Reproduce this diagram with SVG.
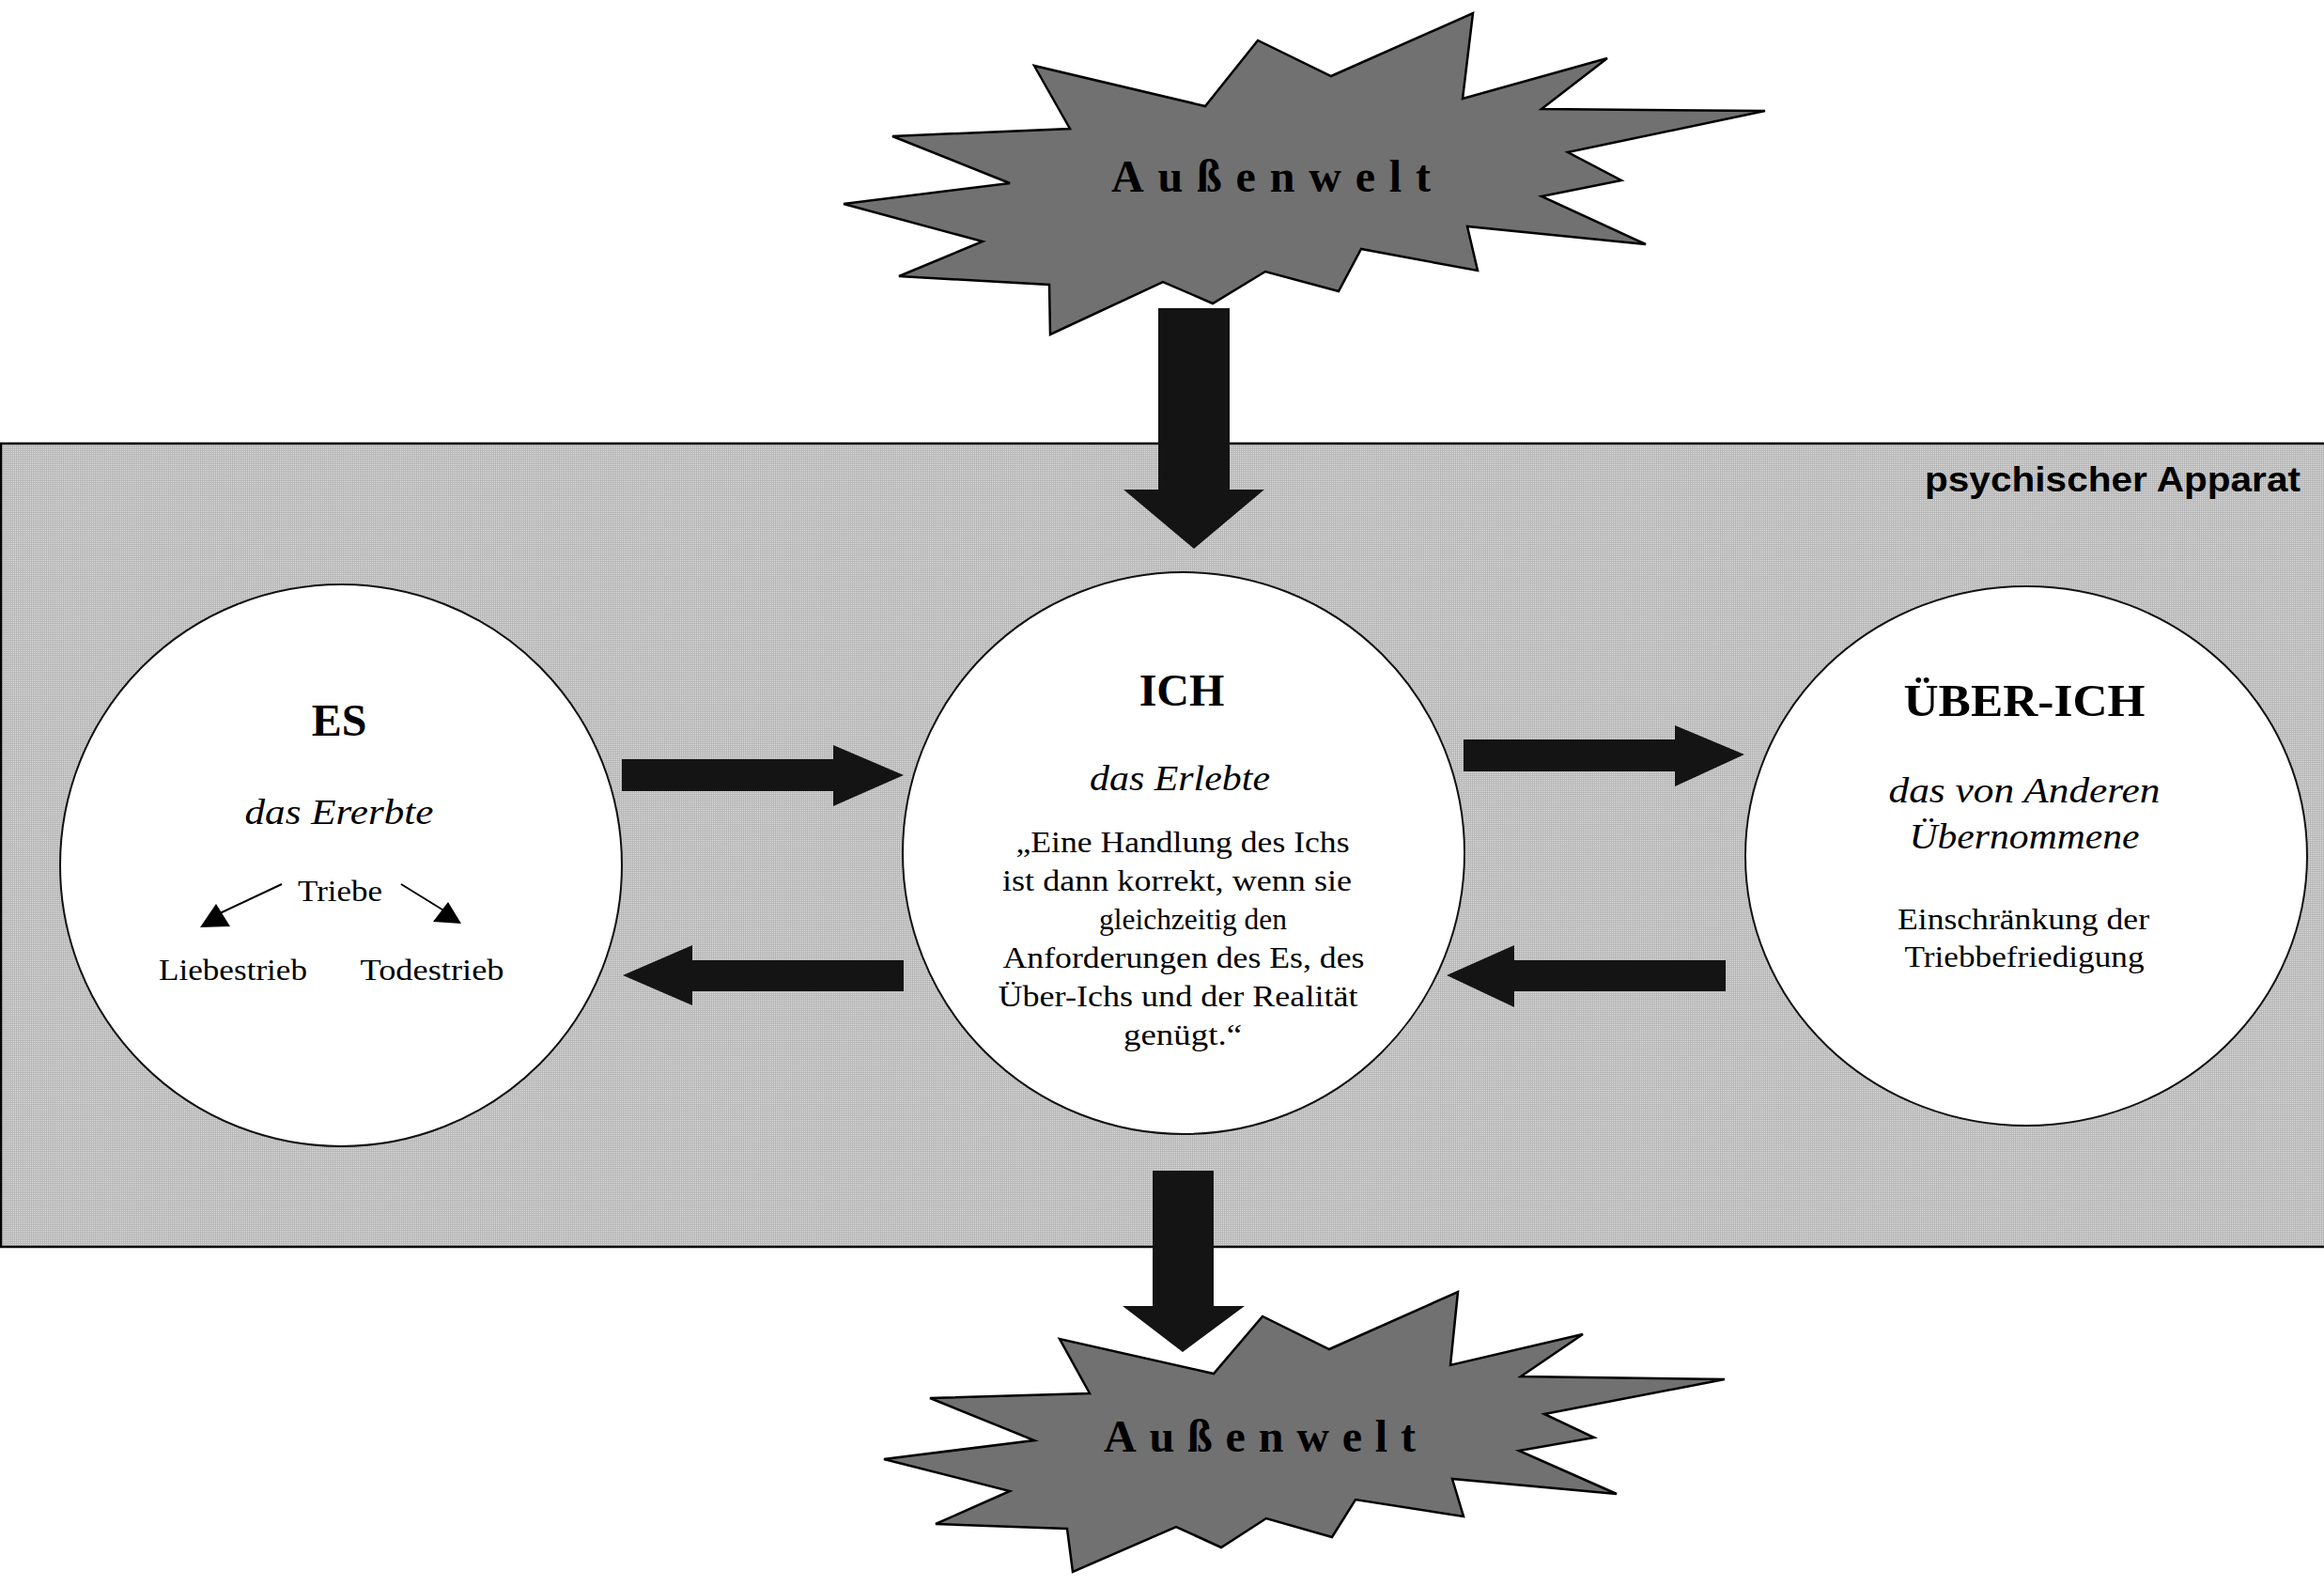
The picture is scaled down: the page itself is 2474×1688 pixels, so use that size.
<svg xmlns="http://www.w3.org/2000/svg" width="2474" height="1688" viewBox="0 0 2474 1688">
<defs>
<pattern id="dots" patternUnits="userSpaceOnUse" width="2" height="2">
<rect width="2" height="2" fill="#b6b6b6"/>
<rect width="1" height="1" fill="#e2e2e2"/>
</pattern>
<style>
.burst{fill:#717171;stroke:#000;stroke-width:2.5;stroke-linejoin:miter}
.big{fill:#141414}
.node{fill:#fff;stroke:#111;stroke-width:2}
.burstText{font-family:"Liberation Serif",serif;font-weight:bold;font-size:48px;fill:#000}
.title{font-family:"Liberation Serif",serif;font-weight:bold;font-size:48px;fill:#000;text-anchor:middle}
.ital{font-family:"Liberation Serif",serif;font-style:italic;font-size:38px;fill:#000;text-anchor:middle}
.body{font-family:"Liberation Serif",serif;font-size:32px;fill:#000;text-anchor:middle}
.small{font-family:"Liberation Serif",serif;font-size:32px;fill:#000;text-anchor:middle}
.panelLabel{font-family:"Liberation Sans",Arial,sans-serif;font-weight:bold;font-size:36px;fill:#000;text-anchor:end}
</style>
</defs>
<rect width="2474" height="1688" fill="#fff"/>

<g id="psychischer-apparat">
<rect x="1" y="472" width="2480" height="855" fill="url(#dots)" stroke="#000" stroke-width="2.5"/>
<text class="panelLabel" x="2449" y="523" textLength="400" lengthAdjust="spacingAndGlyphs">psychischer Apparat</text>
</g>

<g id="aussenwelt-oben">
<polygon class="burst" points="1568,14 1557,105 1711,62 1641,116 1879,118 1669,162 1726,192 1641,209 1752,260 1562,241 1573,288 1449,265 1425,310 1347,289 1291,323 1238,300 1118,356 1117,303 957,294 1046,257 898,217 1075,195 950,145 1139,137 1101,70 1283,113 1339,43 1417,81"/>
<text class="burstText" x="1183" y="204" textLength="340" lengthAdjust="spacing">Außenwelt</text>
</g>

<g id="aussenwelt-unten">
<polygon class="burst" points="1552,1375 1544,1453 1685,1420 1619,1465 1836,1468 1644,1505 1697,1530 1617,1544 1721,1590 1546,1574 1558,1614 1443,1596 1418,1636 1348,1616 1300,1647 1252,1625 1142,1673 1136,1627 996,1622 1075,1587 941,1553 1101,1533 990,1488 1160,1483 1128,1425 1292,1462 1344,1401 1415,1436"/>
<text class="burstText" x="1175" y="1545" textLength="332" lengthAdjust="spacing">Außenwelt</text>
</g>

<g id="es">
<circle class="node" cx="363" cy="921" r="299"/>
<text class="title" x="361" y="783">ES</text>
<text class="ital" x="361" y="877" textLength="201" lengthAdjust="spacingAndGlyphs">das Ererbte</text>
<text class="small" x="362" y="959" textLength="90" lengthAdjust="spacingAndGlyphs">Triebe</text>
<text class="small" x="248" y="1043" textLength="158" lengthAdjust="spacingAndGlyphs">Liebestrieb</text>
<text class="small" x="460" y="1043" textLength="153" lengthAdjust="spacingAndGlyphs">Todestrieb</text>
<line x1="300" y1="941" x2="232" y2="973" stroke="#000" stroke-width="2"/>
<polygon points="213,987 245,986 230,962" fill="#000"/>
<line x1="427" y1="941" x2="474" y2="970" stroke="#000" stroke-width="2"/>
<polygon points="461,981 491,983 477,960" fill="#000"/>
</g>

<g id="ich">
<circle class="node" cx="1260" cy="908" r="299"/>
<text class="title" x="1258" y="751">ICH</text>
<text class="ital" x="1256" y="841" textLength="192" lengthAdjust="spacingAndGlyphs">das Erlebte</text>
<text class="body" x="1259" y="907" textLength="355" lengthAdjust="spacingAndGlyphs">„Eine Handlung des Ichs</text>
<text class="body" x="1253" y="948" textLength="372" lengthAdjust="spacingAndGlyphs">ist dann korrekt, wenn sie</text>
<text class="body" x="1270" y="989" textLength="200" lengthAdjust="spacingAndGlyphs">gleichzeitig den</text>
<text class="body" x="1260" y="1030" textLength="385" lengthAdjust="spacingAndGlyphs">Anforderungen des Es, des</text>
<text class="body" x="1254" y="1071" textLength="383" lengthAdjust="spacingAndGlyphs">Über-Ichs und der Realität</text>
<text class="body" x="1259" y="1112" textLength="126" lengthAdjust="spacingAndGlyphs">genügt.“</text>
</g>

<g id="ueber-ich">
<ellipse class="node" cx="2157" cy="911" rx="299" ry="287"/>
<text class="title" x="2155" y="762" textLength="257" lengthAdjust="spacingAndGlyphs">ÜBER-ICH</text>
<text class="ital" x="2155" y="854" textLength="289" lengthAdjust="spacingAndGlyphs">das von Anderen</text>
<text class="ital" x="2155" y="903" textLength="245" lengthAdjust="spacingAndGlyphs">Übernommene</text>
<text class="small" x="2154" y="989" textLength="268" lengthAdjust="spacingAndGlyphs">Einschränkung der</text>
<text class="small" x="2155" y="1029" textLength="255" lengthAdjust="spacingAndGlyphs">Triebbefriedigung</text>
</g>

<g id="connectors">
<polygon class="big" points="1233,328 1309,328 1309,521 1346,521 1271,584 1196,521 1233,521"/>
<polygon class="big" points="1227,1246 1292,1246 1292,1390 1325,1390 1259,1439 1195,1390 1227,1390"/>
<polygon class="big" points="662,808 887,808 887,793 962,825 887,858 887,842 662,842"/>
<polygon class="big" points="962,1022 737,1022 737,1006 663,1038 737,1070 737,1055 962,1055"/>
<polygon class="big" points="1558,787 1783,787 1783,772 1857,803 1783,837 1783,821 1558,821"/>
<polygon class="big" points="1837,1022 1612,1022 1612,1006 1540,1038 1612,1072 1612,1055 1837,1055"/>
</g>
</svg>
